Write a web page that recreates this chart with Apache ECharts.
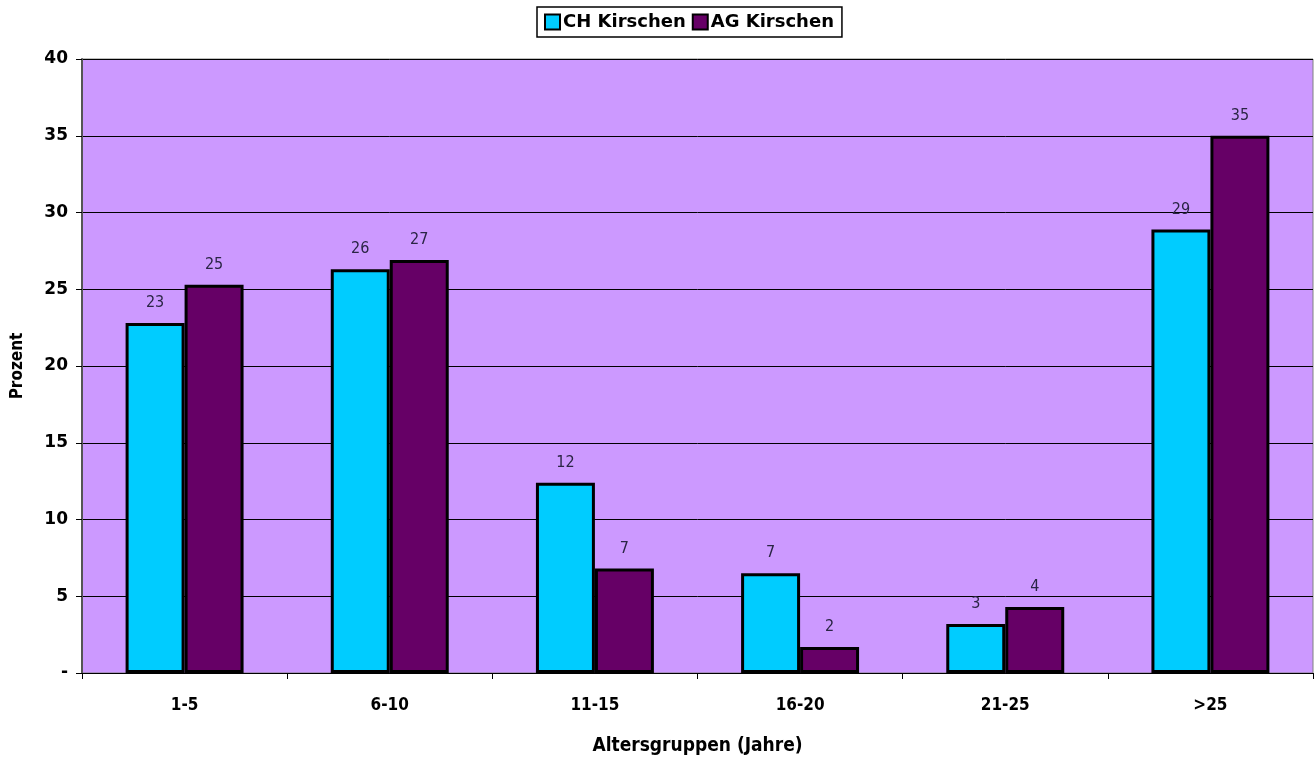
<!DOCTYPE html>
<html>
<head>
<meta charset="utf-8">
<style>
  html, body { margin: 0; padding: 0; background: #ffffff; }
  #chart { width: 1314px; height: 760px; }
</style>
<script src="https://cdn.jsdelivr.net/npm/echarts@6/dist/echarts.min.js"></script>
</head>
<body>
<div id="chart"></div>
<script>
// Altersgruppen der Kirschbäume, Anteil in Prozent
const categories = ['1-5', '6-10', '11-15', '16-20', '21-25', '>25'];
const chValues = [22.8, 26.3, 12.4, 6.5, 3.2, 28.9];
const agValues = [25.3, 26.9, 6.8, 1.7, 4.3, 35.0];
const seriesNames = ['CH Kirschen', 'AG Kirschen'];
const yTicks = [0, 5, 10, 15, 20, 25, 30, 35, 40];

const chart = echarts.init(document.getElementById('chart'));

const boldSans = '"DejaVu Sans", Verdana, sans-serif';
const narrow = '"DejaVu Sans Condensed", "Liberation Sans Narrow", sans-serif';

function barSeries(name, values, color) {
  return {
    name: name,
    type: 'bar',
    data: values,
    barGap: '0%',
    barCategoryGap: '42.5%',
    itemStyle: { color: color, borderColor: '#000000', borderWidth: 3 },
    label: {
      show: true,
      position: 'top',
      distance: 12,
      formatter: p => Math.round(p.value),
      fontFamily: narrow,
      fontSize: 16,
      color: '#2a2545'
    }
  };
}

chart.setOption({
  animation: false,
  backgroundColor: '#ffffff',
  legend: {
    data: seriesNames,
    icon: 'rect',
    top: 7,
    left: 537,
    orient: 'horizontal',
    itemGap: 6,
    itemWidth: 15,
    itemHeight: 15,
    padding: [6, 8, 6, 7],
    borderColor: '#000000',
    borderWidth: 1.5,
    backgroundColor: '#ffffff',
    textStyle: {
      fontFamily: boldSans,
      fontWeight: 'bold',
      fontSize: 18,
      color: '#000000',
      padding: [0, 0, 0, -2]
    }
  },
  grid: {
    left: 82,
    right: 1,
    top: 59,
    bottom: 87,
    show: true,
    backgroundColor: '#cc99ff',
    borderColor: '#808080',
    borderWidth: 1,
    containLabel: false,
    outerBoundsMode: 'none'
  },
  xAxis: {
    type: 'category',
    data: categories,
    name: 'Altersgruppen (Jahre)',
    nameLocation: 'middle',
    nameGap: 64,
    nameTextStyle: {
      fontFamily: narrow,
      fontWeight: 'bold',
      fontSize: 19,
      color: '#000000'
    },
    axisLine: { show: true, lineStyle: { color: '#000000', width: 1 } },
    axisTick: { show: true, alignWithLabel: false, length: 6, lineStyle: { color: '#000000' } },
    axisLabel: {
      margin: 24,
      fontFamily: narrow,
      fontWeight: 'bold',
      fontSize: 17,
      color: '#000000'
    },
    splitLine: { show: false }
  },
  yAxis: {
    type: 'value',
    min: yTicks[0],
    max: yTicks[yTicks.length - 1],
    interval: yTicks[1] - yTicks[0],
    name: 'Prozent',
    nameLocation: 'middle',
    nameGap: 56,
    nameRotate: 90,
    nameTextStyle: {
      fontFamily: narrow,
      fontWeight: 'bold',
      fontSize: 17,
      color: '#000000'
    },
    axisLine: { show: true, lineStyle: { color: '#555555', width: 2 } },
    axisTick: { show: true, inside: false, length: 6, lineStyle: { color: '#000000' } },
    axisLabel: {
      margin: 14,
      formatter: v => (v === 0 ? '-' : String(v)),
      fontFamily: boldSans,
      fontWeight: 'bold',
      fontSize: 17,
      color: '#000000'
    },
    splitLine: { show: true, lineStyle: { color: '#000000', width: 1 } }
  },
  series: [
    barSeries(seriesNames[0], chValues, '#00ccff'),
    barSeries(seriesNames[1], agValues, '#660066')
  ]
});
</script>
</body>
</html>
